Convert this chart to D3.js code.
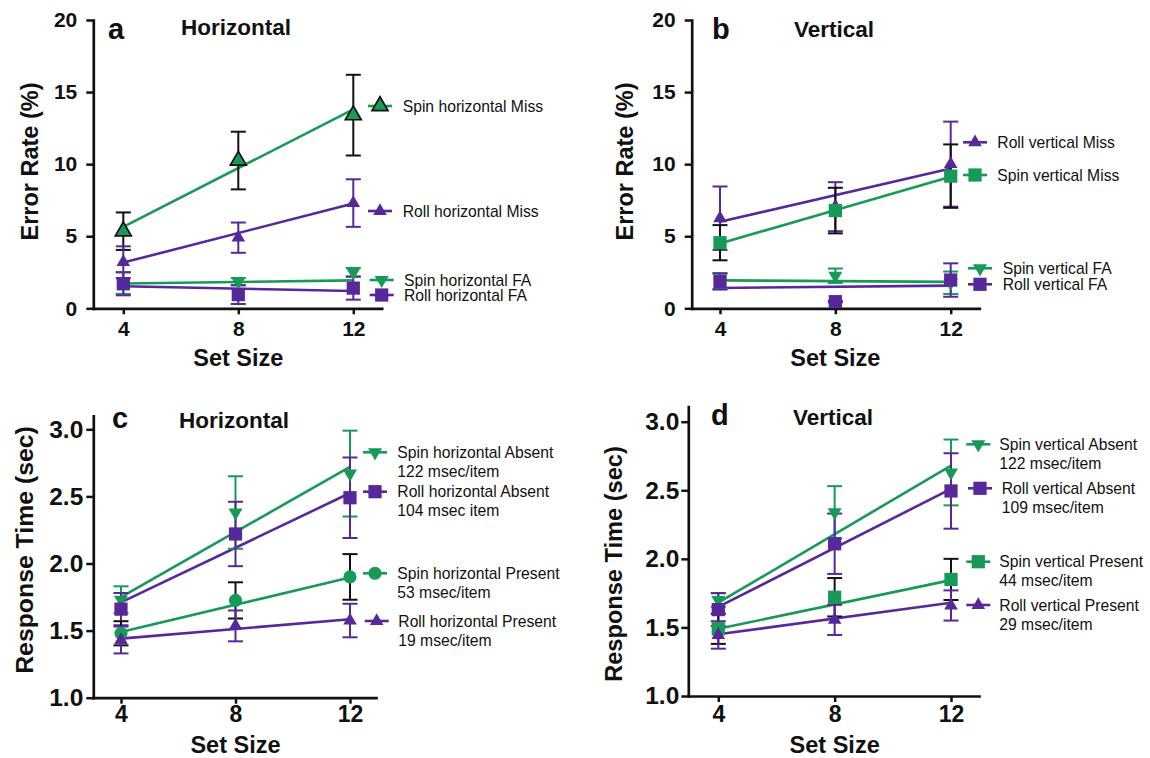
<!DOCTYPE html>
<html lang="en">
<head>
  <meta charset="UTF-8" />
  <title>Error rate and response time by set size</title>
  <script src="https://cdn.jsdelivr.net/npm/d3@7"></script>
  <style>
    body { margin: 0; background: #fff; }
    svg { display: block; font-family: "Liberation Sans", Arial, Helvetica, sans-serif; }
  </style>
</head>
<body>
<svg id="fig" width="1150" height="758"></svg>
<script>
const setSizes = [4, 8, 12];
const fitEnds = [4, 12];

// a - horizontal error rate
const spinHMissMean = [5.35, 10.25, 13.4];
const spinHMissSem = [1.3, 2.0, 2.8];
const spinHMissFit = [5.65, 13.8];
const rollHMissMean = [3.2, 4.9, 7.3];
const rollHMissSem = [1.1, 1.05, 1.65];
const rollHMissFit = [3.17, 7.27];
const spinHFAMean = [1.75, 1.85, 2.5];
const spinHFASem = [0.75, 0.25, 0.3];
const spinHFAFit = [1.72, 1.94];
const rollHFAMean = [1.7, 0.95, 1.4];
const rollHFASem = [0.8, 0.65, 0.8];
const rollHFAFit = [1.53, 1.2];

// b - vertical error rate
const rollVMissMean = [6.25, 7.05, 10.0];
const rollVMissSem = [2.2, 1.7, 2.95];
const rollVMissFit = [6.0, 9.7];
const spinVMissMean = [4.55, 6.78, 9.17];
const spinVMissSem = [1.22, 1.58, 2.2];
const spinVMissFit = [4.5, 9.13];
const spinVFAMean = [1.9, 2.26, 1.77];
const spinVFASem = [0.55, 0.5, 0.78];
const spinVFAFit = [1.94, 1.83];
const rollVFAMean = [1.85, 0.46, 1.96];
const rollVFASem = [0.55, 0.05, 1.16];
const rollVFAFit = [1.41, 1.57];

// c - horizontal response time
const spinHAbsMean = [1.73, 2.38, 2.67];
const spinHAbsSem = [0.1, 0.27, 0.32];
const spinHAbsFit = [1.75, 2.72];
const rollHAbsMean = [1.66, 2.22, 2.49];
const rollHAbsSem = [0.12, 0.24, 0.3];
const rollHAbsFit = [1.71, 2.525];
const spinHPresMean = [1.48, 1.725, 1.9];
const spinHPresSem = [0.09, 0.135, 0.17];
const spinHPresFit = [1.49, 1.895];
const rollHPresMean = [1.43, 1.535, 1.575];
const rollHPresSem = [0.1, 0.115, 0.125];
const rollHPresFit = [1.44, 1.585];

// d - vertical response time
const spinVAbsMean = [1.7, 2.34, 2.63];
const spinVAbsSem = [0.05, 0.19, 0.24];
const spinVAbsFit = [1.68, 2.68];
const rollVAbsMean = [1.63, 2.11, 2.495];
const rollVAbsSem = [0.12, 0.22, 0.275];
const rollVAbsFit = [1.65, 2.51];
const spinVPresMean = [1.49, 1.72, 1.85];
const spinVPresSem = [0.11, 0.14, 0.15];
const spinVPresFit = [1.49, 1.845];
const rollVPresMean = [1.445, 1.555, 1.66];
const rollVPresSem = [0.1, 0.11, 0.11];
const rollVPresFit = [1.45, 1.68];

const errorTicks = [0, 5, 10, 15, 20];
const rtTicks = [1.0, 1.5, 2.0, 2.5, 3.0];

const GREEN = "#179a58";
const PURPLE = "#57289a";

function series(label, mean, sem, fit, color, shape, extra) {
  return Object.assign({ label, mean, sem, fit, color, shape, errColor: color, outline: null }, extra || {});
}

const panels = [
  {
    letter: "a", title: "Horizontal", yLabel: "Error Rate (%)", ticks: errorTicks, fmt: d3.format("d"),
    x4: 123.3, x12: 353.3, axisX: 93.3, axisEnd: 381.7,
    yA: [0, 308.3], yB: [20, 20], yTop: 20, tickFont: 21, xTickFont: 21, tickPad: 9,
    letterPos: [108, 39], titlePos: [181, 35], yLabelPos: [38, 161.5], yLabelFont: 23.5,
    xTickBase: 336, setSizeBase: 366,
    series: [
      series(["Spin horizontal Miss"], spinHMissMean, spinHMissSem, spinHMissFit, GREEN, "up", { errColor: "#111", outline: "#111", big: true }),
      series(["Roll horizontal Miss"], rollHMissMean, rollHMissSem, rollHMissFit, PURPLE, "up"),
      series(["Spin horizontal FA"], spinHFAMean, spinHFASem, spinHFAFit, GREEN, "down"),
      series(["Roll horizontal FA"], rollHFAMean, rollHFASem, rollHFAFit, PURPLE, "square")
    ],
    legend: [[380, 402.7, 106], [380, 402.7, 211], [381.7, 404, 280], [381.7, 404, 295]]
  },
  {
    letter: "b", title: "Vertical", yLabel: "Error Rate (%)", ticks: errorTicks, fmt: d3.format("d"),
    x4: 720, x12: 950.7, axisX: 691.7, axisEnd: 979.3,
    yA: [0, 308.3], yB: [20, 20], yTop: 20, tickFont: 21, xTickFont: 21, tickPad: 9,
    letterPos: [712, 39], titlePos: [794, 37], yLabelPos: [633, 161.5], yLabelFont: 23.5,
    xTickBase: 336, setSizeBase: 366,
    series: [
      series(["Roll vertical Miss"], rollVMissMean, rollVMissSem, rollVMissFit, PURPLE, "up"),
      series(["Spin vertical Miss"], spinVMissMean, spinVMissSem, spinVMissFit, GREEN, "square", { errColor: "#111" }),
      series(["Spin vertical FA"], spinVFAMean, spinVFASem, spinVFAFit, GREEN, "down"),
      series(["Roll vertical FA"], rollVFAMean, rollVFASem, rollVFAFit, PURPLE, "square")
    ],
    legend: [[975, 997.3, 142.3], [975, 997.3, 175], [980, 1002.7, 268.3], [980, 1002.7, 284.3]]
  },
  {
    letter: "c", title: "Horizontal", yLabel: "Response Time (sec)", ticks: rtTicks, fmt: d3.format(".1f"),
    x4: 121, x12: 350, axisX: 93.3, axisEnd: 376,
    yA: [1.0, 697.7], yB: [3.0, 429.3], yTop: 3.1, tickFont: 24.5, xTickFont: 23, tickPad: 3,
    letterPos: [112, 428.3], titlePos: [179, 428.3], yLabelPos: [33, 550], yLabelFont: 24.8,
    xTickBase: 722, setSizeBase: 753,
    series: [
      series(["Spin horizontal Absent", "122 msec/item"], spinHAbsMean, spinHAbsSem, spinHAbsFit, GREEN, "down"),
      series(["Roll horizontal Absent", "104 msec item"], rollHAbsMean, rollHAbsSem, rollHAbsFit, PURPLE, "square"),
      series(["Spin horizontal Present", "53 msec/item"], spinHPresMean, spinHPresSem, spinHPresFit, GREEN, "circle", { errColor: "#111" }),
      series(["Roll horizontal Present", "19 msec/item"], rollHPresMean, rollHPresSem, rollHPresFit, PURPLE, "up")
    ],
    legend: [[375, 397.3, 452.3], [375, 397.3, 491.7], [375, 397.3, 573.3], [376.7, 398.3, 621]]
  },
  {
    letter: "d", title: "Vertical", yLabel: "Response Time (sec)", ticks: rtTicks, fmt: d3.format(".1f"),
    x4: 718.3, x12: 951, axisX: 688.3, axisEnd: 979,
    yA: [1.0, 696], yB: [3.0, 421.7], yTop: 3.11, tickFont: 24.5, xTickFont: 23, tickPad: 2,
    letterPos: [711, 425], titlePos: [793, 425], yLabelPos: [622, 564], yLabelFont: 23.6,
    xTickBase: 722, setSizeBase: 753,
    series: [
      series(["Spin vertical Absent", "122 msec/item"], spinVAbsMean, spinVAbsSem, spinVAbsFit, GREEN, "down"),
      series(["Roll vertical Absent", "109 msec/item"], rollVAbsMean, rollVAbsSem, rollVAbsFit, PURPLE, "square"),
      series(["Spin vertical Present", "44 msec/item"], spinVPresMean, spinVPresSem, spinVPresFit, GREEN, "square", { errColor: "#111" }),
      series(["Roll vertical Present", "29 msec/item"], rollVPresMean, rollVPresSem, rollVPresFit, PURPLE, "up")
    ],
    legend: [[978.3, 999.3, 444.3], [980, 1001.7, 488.3], [978.3, 999.3, 561.7], [978.3, 999.3, 605]]
  }
];

const svg = d3.select("#fig");

function markerPath(s) {
  if (s.shape === "square") return d3.symbol().type(d3.symbolSquare).size(175)();
  if (s.shape === "circle") return d3.symbol().type(d3.symbolCircle).size(135)();
  if (s.shape === "down") return d3.symbol().type(d3.symbolTriangle).size(85)();
  return d3.symbol().type(d3.symbolTriangle).size(s.big ? 110 : 80)();
}

function drawMarker(g, s, cx, cy) {
  g.append("path")
    .attr("d", markerPath(s))
    .attr("transform", `translate(${cx},${cy})` + (s.shape === "down" ? " rotate(180)" : ""))
    .attr("fill", s.color)
    .attr("stroke", s.outline || "none")
    .attr("stroke-width", s.outline ? 1.7 : 0);
}

panels.forEach(p => {
  const base = d3.scaleLinear().domain([4, 12]).range([p.x4, p.x12]);
  const x = d3.scaleLinear()
    .domain([base.invert(p.axisX), base.invert(p.axisEnd)])
    .range([p.axisX, p.axisEnd]);
  const yBase = d3.scaleLinear().domain([p.yA[0], p.yB[0]]).range([p.yA[1], p.yB[1]]);
  const y = d3.scaleLinear().domain([p.yA[0], p.yTop]).range([p.yA[1], yBase(p.yTop)]);
  const y0 = p.yA[1];

  const g = svg.append("g");

  // axes
  const xAxis = g.append("g")
    .attr("transform", `translate(0,${y0})`)
    .call(d3.axisBottom(x).tickValues(setSizes).tickSize(6).tickSizeOuter(0).tickPadding(0));
  xAxis.selectAll("text")
    .attr("dy", null)
    .attr("y", p.xTickBase - y0)
    .attr("font-size", p.xTickFont);

  const yAxis = g.append("g")
    .attr("transform", `translate(${p.axisX},0)`)
    .call(d3.axisLeft(y).tickValues(p.ticks).tickFormat(p.fmt).tickSize(7).tickSizeOuter(0).tickPadding(p.tickPad));
  yAxis.selectAll("text").attr("font-size", p.tickFont);

  [xAxis, yAxis].forEach(a => {
    a.select(".domain").attr("stroke", "#111").attr("stroke-width", 2.7).attr("stroke-linecap", "square");
    a.selectAll(".tick line").attr("stroke", "#111").attr("stroke-width", 2.5);
    a.selectAll(".tick text")
      .attr("fill", "#111")
      .attr("font-weight", "bold")
      .attr("font-family", "Liberation Sans, Arial, sans-serif");
  });

  // labels
  g.append("text")
    .attr("x", p.letterPos[0]).attr("y", p.letterPos[1])
    .attr("font-size", 29).attr("font-weight", "bold").attr("fill", "#111")
    .text(p.letter);
  g.append("text")
    .attr("x", p.titlePos[0]).attr("y", p.titlePos[1])
    .attr("font-size", 22.5).attr("font-weight", "bold").attr("fill", "#111")
    .text(p.title);
  g.append("text")
    .attr("transform", `translate(${p.yLabelPos[0]},${p.yLabelPos[1]}) rotate(-90)`)
    .attr("text-anchor", "middle")
    .attr("font-size", p.yLabelFont).attr("font-weight", "bold").attr("fill", "#111")
    .text(p.yLabel);
  g.append("text")
    .attr("x", x(8)).attr("y", p.setSizeBase)
    .attr("text-anchor", "middle")
    .attr("font-size", 23.5).attr("font-weight", "bold").attr("fill", "#111")
    .text("Set Size");

  // fitted lines
  p.series.forEach(s => {
    g.append("line")
      .attr("x1", x(fitEnds[0])).attr("y1", y(s.fit[0]))
      .attr("x2", x(fitEnds[1])).attr("y2", y(s.fit[1]))
      .attr("stroke", s.color)
      .attr("stroke-width", 2.6);
  });

  // error bars
  p.series.forEach(s => {
    setSizes.forEach((k, i) => {
      const xi = x(k), top = y(s.mean[i] + s.sem[i]), bot = y(s.mean[i] - s.sem[i]);
      const eb = g.append("g").attr("stroke", s.errColor).attr("stroke-width", 2);
      eb.append("line").attr("x1", xi).attr("x2", xi).attr("y1", top).attr("y2", bot);
      eb.append("line").attr("x1", xi - 7.5).attr("x2", xi + 7.5).attr("y1", top).attr("y2", top);
      eb.append("line").attr("x1", xi - 7.5).attr("x2", xi + 7.5).attr("y1", bot).attr("y2", bot);
    });
  });

  // markers
  p.series.forEach(s => {
    setSizes.forEach((k, i) => drawMarker(g, s, x(k), y(s.mean[i])));
  });

  // legend
  p.series.forEach((s, i) => {
    const [mx, tx, ly] = p.legend[i];
    g.append("line")
      .attr("x1", mx - 12).attr("x2", mx + 12)
      .attr("y1", ly).attr("y2", ly)
      .attr("stroke", s.color).attr("stroke-width", 2.6);
    drawMarker(g, s, mx, ly);
    s.label.forEach((t, j) => {
      g.append("text")
        .attr("x", tx).attr("y", ly + j * 19)
        .attr("dy", "0.36em")
        .attr("font-size", 15.7).attr("fill", "#111")
        .text(t);
    });
  });
});
</script>
</body>
</html>
